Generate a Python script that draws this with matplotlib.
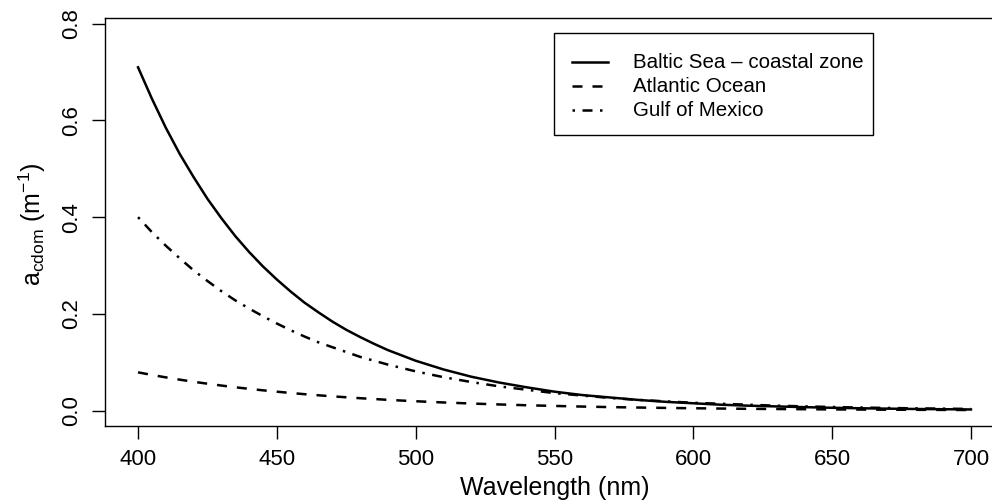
import matplotlib
matplotlib.use("Agg")
import matplotlib.pyplot as plt
from matplotlib.lines import Line2D
from matplotlib.patches import Rectangle

plt.rcParams['font.family'] = ['Liberation Sans', 'DejaVu Sans']
plt.rcParams['mathtext.fontset'] = 'custom'
plt.rcParams['mathtext.rm'] = 'Liberation Sans'
plt.rcParams['mathtext.it'] = 'Liberation Sans'

wavelength = [400, 405, 410, 415, 420, 425, 430, 435, 440, 445, 450,
              455, 460, 465, 470, 475, 480, 485, 490, 495, 500,
              510, 520, 530, 540, 550, 560, 570, 580, 590, 600,
              610, 620, 630, 640, 650, 660, 670, 680, 690, 700]
baltic = [0.710, 0.645, 0.585, 0.531, 0.483, 0.438, 0.398, 0.361, 0.328, 0.298, 0.271,
          0.246, 0.223, 0.203, 0.184, 0.167, 0.152, 0.138, 0.125, 0.114, 0.103,
          0.085, 0.070, 0.058, 0.048, 0.039, 0.032, 0.027, 0.022, 0.018, 0.015,
          0.012, 0.010, 0.0085, 0.0070, 0.0057, 0.0047, 0.0039, 0.0032, 0.0027, 0.0022]
atlantic = [0.0790, 0.0736, 0.0686, 0.0639, 0.0595, 0.0555, 0.0517, 0.0481, 0.0449, 0.0418, 0.0390,
            0.0363, 0.0338, 0.0315, 0.0294, 0.0274, 0.0255, 0.0238, 0.0221, 0.0206, 0.0192,
            0.0167, 0.0145, 0.0126, 0.0109, 0.0095, 0.0082, 0.0071, 0.0062, 0.0054, 0.0047,
            0.0041, 0.0035, 0.0031, 0.0027, 0.0023, 0.0020, 0.0017, 0.0015, 0.0013, 0.0011]
gulf = [0.400, 0.369, 0.341, 0.315, 0.290, 0.268, 0.247, 0.228, 0.211, 0.195, 0.180,
        0.166, 0.153, 0.141, 0.131, 0.121, 0.111, 0.103, 0.095, 0.088, 0.081,
        0.069, 0.059, 0.050, 0.043, 0.036, 0.031, 0.026, 0.022, 0.019, 0.016,
        0.014, 0.012, 0.010, 0.0086, 0.0073, 0.0062, 0.0053, 0.0045, 0.0039, 0.0033]
labels = ["Baltic Sea \u2013 coastal zone", "Atlantic Ocean", "Gulf of Mexico"]
xticks = [400, 450, 500, 550, 600, 650, 700]
yticks = [0.0, 0.2, 0.4, 0.6, 0.8]

W, H = 992, 504
fig = plt.figure(figsize=(W / 100, H / 100), dpi=100)
L, R, T, B = 105, 1004, 18, 426
ax = fig.add_axes([L / W, 1 - B / H, (R - L) / W, (B - T) / H])

lw = 1.8
styles = ['-', (0, (4, 4)), (0, (1, 3, 4, 3))]
for y, ls in zip([baltic, atlantic, gulf], styles):
    ax.plot(wavelength, y, color='black', lw=lw, linestyle=ls)

ax.set_xlim(388.1, 711.9)
ax.set_ylim(-0.032, 0.812)
ax.set_xticks(xticks)
ax.set_xticklabels([str(v) for v in xticks])
ax.set_yticks(yticks)
ax.set_yticklabels([f"{v:.1f}" for v in yticks], rotation=90, va='center')
ax.tick_params(direction='out', length=9.5, width=1.0, labelsize=16, color='black')
ax.tick_params(axis='x', pad=7)
ax.tick_params(axis='y', pad=7)
for s in ax.spines.values():
    s.set_linewidth(1.0)
    s.set_color('black')

fig.text((L + R) / 2 / W, 1 - 488 / H, "Wavelength (nm)", ha='center', va='center', fontsize=18)
fig.text(32 / W, 1 - 224 / H, r"a$_{\mathrm{cdom}}$ (m$^{-1}$)", rotation=90,
         ha='center', va='center', fontsize=18)

# legend
fig.patches.append(Rectangle((554 / W, 1 - 135 / H), (873 - 554) / W, (135 - 33) / H,
                             transform=fig.transFigure, fill=False, edgecolor='black', lw=1.0))
rows = [62, 86, 110]
for yy, ls, lab in zip(rows, styles, labels):
    fig.lines.append(Line2D([572 / W, 608 / W], [1 - yy / H, 1 - yy / H], transform=fig.transFigure,
                            color='black', lw=lw, linestyle=ls))
    fig.text(633 / W, 1 - yy / H, lab, ha='left', va='center', fontsize=14.8)

fig.savefig("out.png", dpi=100)
